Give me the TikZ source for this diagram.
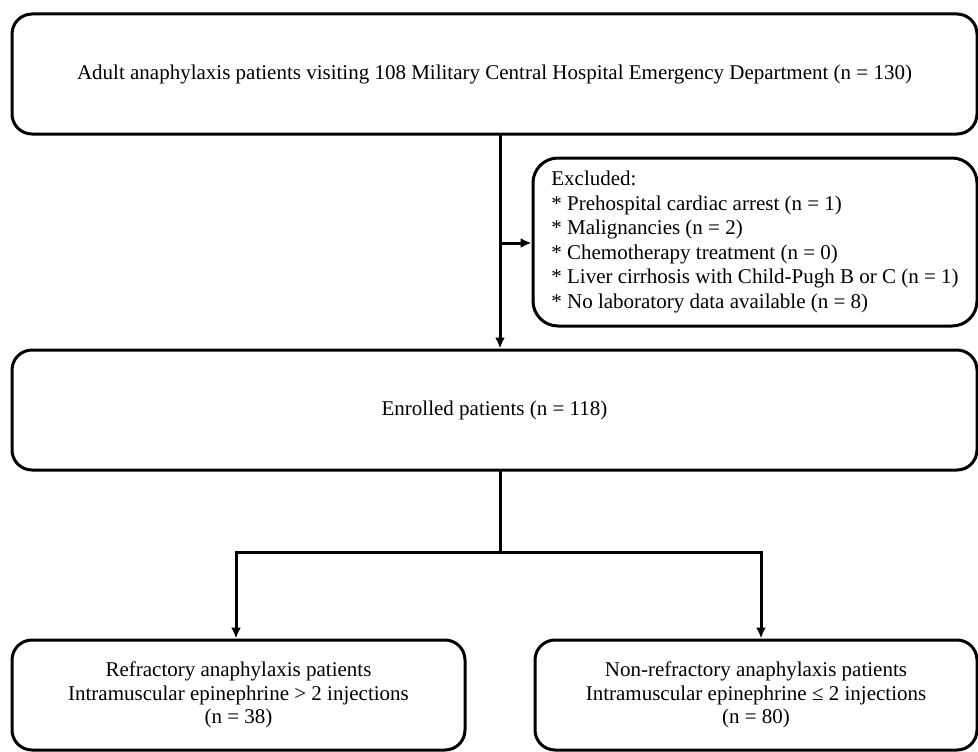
\documentclass[tikz,border=0pt]{standalone}
\usepackage{fontspec}
\setmainfont{Liberation Serif}
\usetikzlibrary{arrows.meta}
\begin{document}
\begin{tikzpicture}[x=1pt,y=-1pt,
  box/.style={draw=black,line width=3pt,rounded corners=20pt,inner sep=0pt,
    font=\fontsize{21}{23.5}\selectfont,align=center},
  conn/.style={line width=3pt,line cap=rect},
  arr/.style={conn,-{Latex[length=11pt,width=10pt]}}]
\useasboundingbox[fill=white] (0,0) rectangle (978,752);
\node[box,minimum width=965pt,minimum height=120pt] (top) at (494.5,74)
  {Adult anaphylaxis patients visiting 108 Military Central Hospital Emergency Department (n = 130)};
\node[box,minimum width=444pt,minimum height=168pt,rounded corners=25pt,align=left,
  font=\fontsize{21}{24.5}\selectfont] (excl) at (755,242)
  {Excluded:\\
   * Prehospital cardiac arrest (n = 1)\\
   * Malignancies (n = 2)\\
   * Chemotherapy treatment (n = 0)\\
   * Liver cirrhosis with Child-Pugh B or C (n = 1)\\
   * No laboratory data available (n = 8)};
\node[box,minimum width=965pt,minimum height=120pt] (enr) at (494.5,410)
  {Enrolled patients (n = 118)};
\node[box,minimum width=453pt,minimum height=110pt] (bl) at (238.5,695)
  {Refractory anaphylaxis patients\\Intramuscular epinephrine > 2 injections\\(n = 38)};
\node[box,minimum width=442pt,minimum height=110pt] (br) at (756,695)
  {Non-refractory anaphylaxis patients\\Intramuscular epinephrine ≤ 2 injections\\(n = 80)};
\coordinate (v) at (500,134);
\coordinate (ex) at (500,243);
\coordinate (split) at (500,552);
\coordinate (sl) at (236,552);
\coordinate (sr) at (761,552);
\draw[arr] (top.south -| v) -- (enr.north -| v);
\draw[arr] (ex) -- (excl.west |- ex);
\draw[conn] (enr.south -| split) -- (split);
\draw[conn] (sl) -- (sr);
\draw[arr] (sl) -- (bl.north -| sl);
\draw[arr] (sr) -- (br.north -| sr);
\end{tikzpicture}
\end{document}
